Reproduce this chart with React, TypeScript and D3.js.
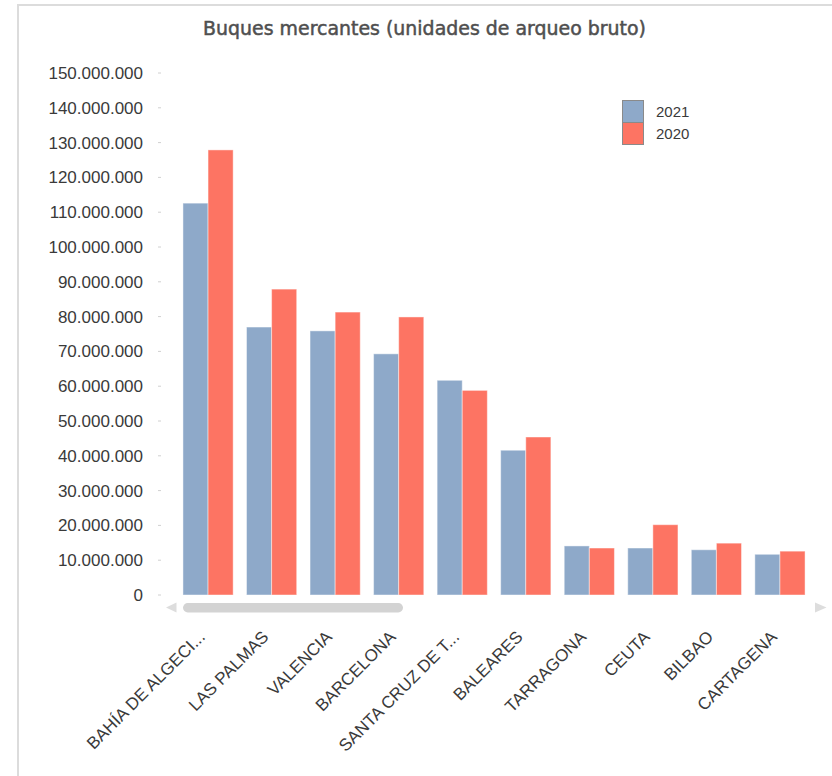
import React, { useRef, useEffect } from "react";
import * as d3 from "d3";

// Data
const ports = [
  "BAHÍA DE ALGECI...",
  "LAS PALMAS",
  "VALENCIA",
  "BARCELONA",
  "SANTA CRUZ DE T...",
  "BALEARES",
  "TARRAGONA",
  "CEUTA",
  "BILBAO",
  "CARTAGENA",
];
const values2021 = [112600000, 77000000, 75900000, 69300000, 61700000, 41600000, 14100000, 13500000, 13000000, 11700000];
const values2020 = [127900000, 87900000, 81300000, 79900000, 58800000, 45400000, 13500000, 20200000, 14900000, 12600000];
const seriesNames = ["2021", "2020"];
const seriesColors = ["#8ea9c9", "#fd7463"];
const yTicks = [0, 10e6, 20e6, 30e6, 40e6, 50e6, 60e6, 70e6, 80e6, 90e6, 100e6, 110e6, 120e6, 130e6, 140e6, 150e6];

const W = 832;
const H = 776;

const App = () => {
  const ref = useRef<SVGSVGElement>(null);

  useEffect(() => {
    const svg = d3.select(ref.current);
    svg.selectAll("*").remove();

    const fontFamily = "'Liberation Sans', Arial, sans-serif";
    const es = d3.formatLocale({ decimal: ",", thousands: ".", grouping: [3], currency: ["", ""] });
    const fmt = es.format(",d");

    // frame
    svg
      .append("rect")
      .attr("x", 18)
      .attr("y", 5)
      .attr("width", W)
      .attr("height", H)
      .attr("fill", "#fff")
      .attr("stroke", "#dcdcdc")
      .attr("stroke-width", 2);

    // title
    svg
      .append("text")
      .attr("x", 424.5)
      .attr("y", 35)
      .attr("text-anchor", "middle")
      .attr("font-family", "'DejaVu Sans', sans-serif")
      .attr("font-size", 19)
      .attr("fill", "#4f4f4f")
      .attr("stroke", "#4f4f4f")
      .attr("stroke-width", 0.5)
      .attr("textLength", 443)
      .attr("lengthAdjust", "spacingAndGlyphs")
      .text("Buques mercantes (unidades de arqueo bruto)");

    // scales
    const x = d3.scaleBand().domain(ports).range([176.6, 811.4]).paddingInner(0.21).paddingOuter(0.1);
    const xs = d3.scaleBand().domain(seriesNames).range([0, x.bandwidth()]);
    const y = d3.scaleLinear().domain([0, 150e6]).range([595, 73]);

    // y axis labels and tiny ticks
    const yAxis = svg.append("g");
    yAxis
      .selectAll("text")
      .data(yTicks)
      .enter()
      .append("text")
      .attr("x", 143)
      .attr("y", (d) => y(d))
      .attr("dy", "0.35em")
      .attr("text-anchor", "end")
      .attr("font-family", fontFamily)
      .attr("font-size", 17)
      .attr("fill", "#3a3a3a")
      .text((d) => fmt(d));
    yAxis
      .selectAll("line")
      .data(yTicks)
      .enter()
      .append("line")
      .attr("x1", 158)
      .attr("x2", 161)
      .attr("y1", (d) => y(d))
      .attr("y2", (d) => y(d))
      .attr("stroke", "#d0d0d0")
      .attr("stroke-width", 1);

    // bars
    const series = [values2021, values2020];
    series.forEach((vals, si) => {
      svg
        .append("g")
        .selectAll("rect")
        .data(vals)
        .enter()
        .append("rect")
        .attr("x", (_, i) => (x(ports[i]) as number) + (xs(seriesNames[si]) as number))
        .attr("y", (d) => y(d))
        .attr("width", xs.bandwidth())
        .attr("height", (d) => y(0) - y(d))
        .attr("fill", seriesColors[si])
        .attr("stroke", "rgba(255,255,255,0.45)")
        .attr("stroke-width", 1);
    });

    // scrollbar
    svg.append("path").attr("d", "M166,607.5L176.5,602.5L176.5,612.5Z").attr("fill", "#dddddd");
    svg.append("path").attr("d", "M826.5,607.5L815,602.5L815,612.5Z").attr("fill", "#dddddd");
    svg
      .append("rect")
      .attr("x", 183)
      .attr("y", 603)
      .attr("width", 220)
      .attr("height", 9.5)
      .attr("rx", 4.75)
      .attr("fill", "#d3d3d3");

    // x labels
    svg
      .append("g")
      .selectAll("text")
      .data(ports)
      .enter()
      .append("text")
      .attr("transform", (d) => `translate(${(x(d) as number) + x.bandwidth() / 2 - 2},638) rotate(-45)`)
      .attr("text-anchor", "end")
      .attr("font-family", fontFamily)
      .attr("font-size", 17)
      .attr("fill", "#3a3a3a")
      .text((d) => d);

    // legend
    const legend = svg.append("g");
    seriesNames.forEach((name, i) => {
      legend
        .append("rect")
        .attr("x", 622.5)
        .attr("y", 100.5 + i * 22)
        .attr("width", 21)
        .attr("height", 22)
        .attr("fill", seriesColors[i])
        .attr("stroke", "#8a8a8a")
        .attr("stroke-width", 1);
      legend
        .append("text")
        .attr("x", 656)
        .attr("y", 111.5 + i * 22)
        .attr("dy", "0.35em")
        .attr("font-family", fontFamily)
        .attr("font-size", 15)
        .attr("fill", "#3a3a3a")
        .text(name);
    });
  }, []);

  return (
    <svg
      ref={ref}
      width={W}
      height={H}
      style={{ position: "absolute", left: 0, top: 0, display: "block" }}
    />
  );
};

export default App;
